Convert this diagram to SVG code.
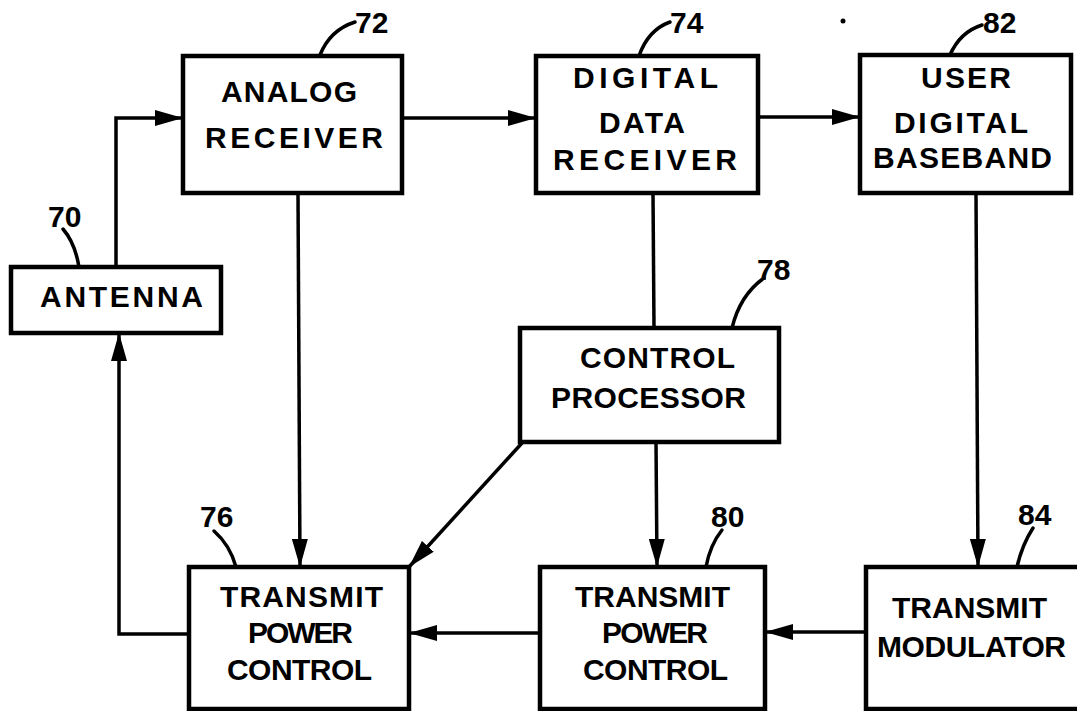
<svg xmlns="http://www.w3.org/2000/svg" width="1077" height="711" viewBox="0 0 1077 711">
<style>
.box{fill:#fff;stroke:#000;stroke-width:4.5}
.ln{fill:none;stroke:#000;stroke-width:3.5}
.ld{fill:none;stroke:#000;stroke-width:3.5;stroke-linecap:round}
.t{font-family:"Liberation Sans",Arial,sans-serif;font-weight:bold;font-size:30px;fill:#000}
</style>
<defs>
<marker id="ah" viewBox="0 0 28 16" refX="28" refY="8" markerWidth="28" markerHeight="16" markerUnits="userSpaceOnUse" orient="auto">
<path d="M0,0 L28,8 L0,16 z" fill="#000"/>
</marker>
</defs>
<rect width="1077" height="711" fill="#fff"/>
<g id="connectors">
<path class="ln" d="M116,267 L116,118 L183,118" marker-end="url(#ah)"/>
<path class="ln" d="M402,118 L536,118" marker-end="url(#ah)"/>
<path class="ln" d="M758,117 L860,117" marker-end="url(#ah)"/>
<path class="ln" d="M298,193 L300,567" marker-end="url(#ah)"/>
<path class="ln" d="M653,193 L654,328"/>
<path class="ln" d="M522,443 L409,567" marker-end="url(#ah)"/>
<path class="ln" d="M656,442 L657,567" marker-end="url(#ah)"/>
<path class="ln" d="M976,193 L978,567" marker-end="url(#ah)"/>
<path class="ln" d="M866,632 L765,632" marker-end="url(#ah)"/>
<path class="ln" d="M540,633 L409,633" marker-end="url(#ah)"/>
<path class="ln" d="M189,634 L119,634 L119,333" marker-end="url(#ah)"/>
</g>
<g id="n70">
<rect class="box" x="11" y="267" width="210" height="66"/>
<text class="t" x="40" y="307" textLength="163" lengthAdjust="spacing">ANTENNA</text>
<path class="ld" d="M63,229 Q75,243 79,267"/>
<text class="t" x="48" y="227">70</text>
</g>
<g id="n72">
<rect class="box" x="183" y="56" width="219" height="137"/>
<text class="t" x="221" y="102" textLength="136" lengthAdjust="spacing">ANALOG</text>
<text class="t" x="205" y="148" textLength="178" lengthAdjust="spacing">RECEIVER</text>
<path class="ld" d="M320,55 Q330,30 355,22"/>
<text class="t" x="355" y="33">72</text>
</g>
<g id="n74">
<rect class="box" x="536" y="56" width="222" height="137"/>
<text class="t" x="573" y="88" textLength="145" lengthAdjust="spacing">DIGITAL</text>
<text class="t" x="599" y="133" textLength="86" lengthAdjust="spacing">DATA</text>
<text class="t" x="553" y="170" textLength="184" lengthAdjust="spacing">RECEIVER</text>
<path class="ld" d="M639,56 Q648,30 670,22"/>
<text class="t" x="670" y="33">74</text>
</g>
<g id="n82">
<rect class="box" x="860" y="55" width="211" height="138"/>
<text class="t" x="921" y="88" textLength="90" lengthAdjust="spacing">USER</text>
<text class="t" x="894" y="133" textLength="134" lengthAdjust="spacing">DIGITAL</text>
<text class="t" x="873" y="168" textLength="179" lengthAdjust="spacing">BASEBAND</text>
<path class="ld" d="M950,55 Q960,32 982,25"/>
<text class="t" x="983" y="33">82</text>
</g>
<g id="n78">
<rect class="box" x="520" y="328" width="259" height="114"/>
<text class="t" x="580" y="368" textLength="155" lengthAdjust="spacing">CONTROL</text>
<text class="t" x="551" y="408" textLength="195" lengthAdjust="spacing">PROCESSOR</text>
<path class="ld" d="M732,328 Q740,295 764,278"/>
<text class="t" x="757" y="280">78</text>
</g>
<g id="n76">
<rect class="box" x="189" y="567" width="220" height="142"/>
<text class="t" x="220" y="607" textLength="163" lengthAdjust="spacing">TRANSMIT</text>
<text class="t" x="248" y="643" textLength="105" lengthAdjust="spacing">POWER</text>
<text class="t" x="227" y="680" textLength="145" lengthAdjust="spacing">CONTROL</text>
<path class="ld" d="M214,531 Q230,545 236,567"/>
<text class="t" x="200" y="527">76</text>
</g>
<g id="n80">
<rect class="box" x="540" y="567" width="225" height="142"/>
<text class="t" x="575" y="607" textLength="155" lengthAdjust="spacing">TRANSMIT</text>
<text class="t" x="602" y="643" textLength="106" lengthAdjust="spacing">POWER</text>
<text class="t" x="583" y="680" textLength="145" lengthAdjust="spacing">CONTROL</text>
<path class="ld" d="M706,567 Q710,545 722,530"/>
<text class="t" x="711" y="527">80</text>
</g>
<g id="n84">
<rect class="box" x="866" y="567" width="224" height="142"/>
<text class="t" x="892" y="618" textLength="155" lengthAdjust="spacing">TRANSMIT</text>
<text class="t" x="877" y="657" textLength="189" lengthAdjust="spacing">MODULATOR</text>
<path class="ld" d="M1017,567 Q1022,545 1033,528"/>
<text class="t" x="1018" y="525">84</text>
</g>
<circle cx="843" cy="21" r="2.5" fill="#000"/>
</svg>
